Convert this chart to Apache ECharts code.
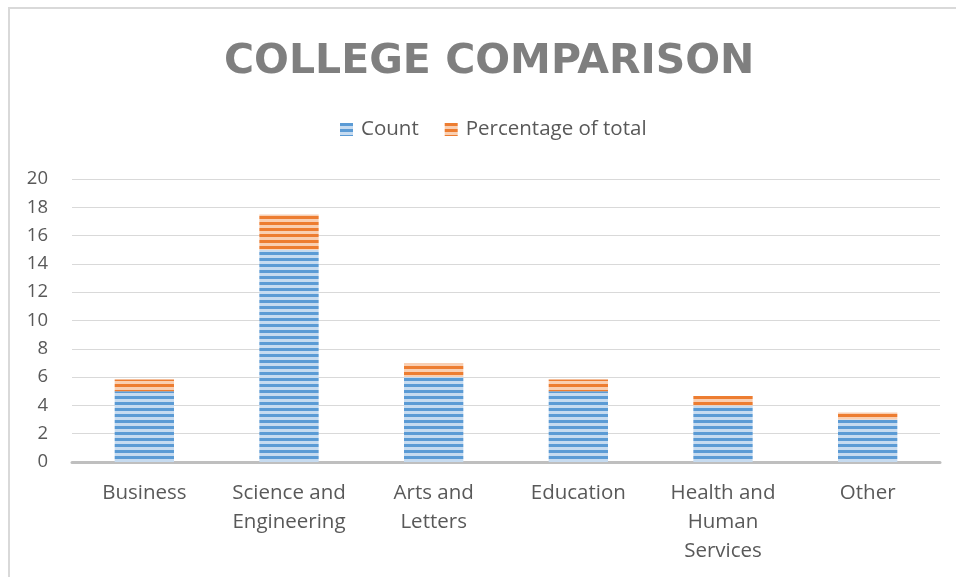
<!DOCTYPE html>
<html><head><meta charset="utf-8">
<script src="https://cdn.jsdelivr.net/npm/echarts@6/dist/echarts.min.js"></script>
<style>html,body{margin:0;padding:0;background:#fff}#c{width:956px;height:577px}</style>
</head><body><div id="c"></div>
<script>
const categories = ['Business', 'Science and\nEngineering', 'Arts and\nLetters', 'Education', 'Health and\nHuman\nServices', 'Other'];
const countValues = [5, 15, 6, 5, 4, 3];
const percentValues = [0.83, 2.5, 1, 0.83, 0.67, 0.5];
const yTicks = [0, 2, 4, 6, 8, 10, 12, 14, 16, 18, 20];

function stripe(dark, light) {
  const cv = document.createElement('canvas');
  cv.width = 8; cv.height = 6;
  const ctx = cv.getContext('2d');
  ctx.fillStyle = light; ctx.fillRect(0, 0, 8, 6);
  ctx.fillStyle = dark; ctx.fillRect(0, 0, 8, 3);
  return { image: cv, repeat: 'repeat' };
}
const bluePat = stripe('#5B9BD5', '#C6DBF0');
const orangePat = stripe('#ED7D31', '#F9CFB2');

const chart = echarts.init(document.getElementById('c'), null, { renderer: 'canvas' });
const font = '"Open Sans", "Liberation Sans", sans-serif';
chart.setOption({
  backgroundColor: '#fff',
  animation: false,
  graphic: [{ type: 'rect', shape: { x: 9, y: 8, width: 960, height: 580 }, style: { fill: 'none', stroke: '#D9D9D9', lineWidth: 2 } }],
  title: {
    text: 'COLLEGE COMPARISON', left: 219, top: 36,
    textStyle: { fontFamily: '"DejaVu Sans", sans-serif', fontWeight: 'bold', fontSize: 41, lineHeight: 42, color: '#7F7F7F' }
  },
  legend: {
    top: 114, left: 335, itemGap: 26, itemWidth: 13, itemHeight: 13, icon: 'rect',
    textStyle: { fontFamily: font, fontSize: 20.5, color: '#595959', padding: [0, 0, 0, 3] },
    data: ['Count', 'Percentage of total']
  },
  grid: { left: 72, right: 16, top: 179, bottom: 115, containLabel: false },
  xAxis: {
    type: 'category', data: categories,
    axisLine: { lineStyle: { color: '#BFBFBF', width: 3 } },
    axisTick: { show: false },
    axisLabel: { fontFamily: font, fontSize: 20.5, color: '#595959', margin: 17, lineHeight: 29, interval: 0 }
  },
  yAxis: {
    type: 'value', min: yTicks[0], max: yTicks[yTicks.length - 1], interval: 2,
    axisLine: { show: false }, axisTick: { show: false },
    splitLine: { lineStyle: { color: '#D9D9D9', width: 1 } },
    axisLabel: { fontFamily: font, fontSize: 18.5, color: '#595959', margin: 24 }
  },
  series: [
    { name: 'Count', type: 'bar', stack: 't', data: countValues, barWidth: '41%', itemStyle: { color: bluePat } },
    { name: 'Percentage of total', type: 'bar', stack: 't', data: percentValues, barWidth: '41%', itemStyle: { color: orangePat } }
  ]
});
</script></body></html>
